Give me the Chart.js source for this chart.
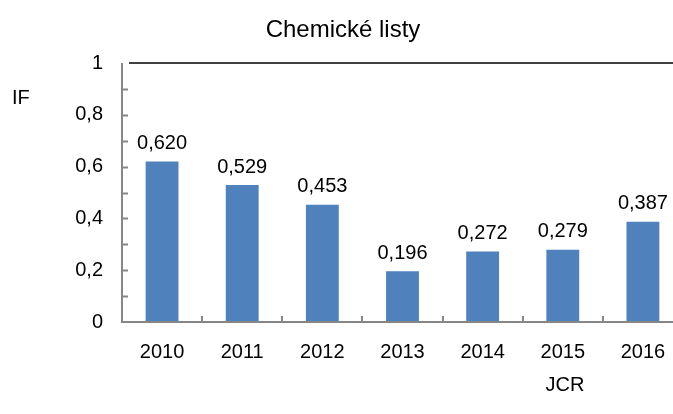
<!DOCTYPE html>
<html>
<head>
<meta charset="utf-8">
<script src="https://cdn.jsdelivr.net/npm/chart.js@4.4.0/dist/chart.umd.min.js"></script>
<style>
    html, body { margin: 0; padding: 0; background: #fff; overflow: hidden; }
    #wrap { width: 673px; height: 414px; overflow: hidden; position: relative; }
    #chart { display: block; }
</style>
</head>
<body>
<div id="wrap"><canvas id="chart" width="700" height="414"></canvas></div>
<script>
// ── DATA ──
const years  = ['2010', '2011', '2012', '2013', '2014', '2015', '2016'];
const ifVals = [0.620, 0.529, 0.453, 0.196, 0.272, 0.279, 0.387];
const titleText = 'Chemické listy';
const yLabel = 'IF';
const xLabel = 'JCR';

const FONT = "'Liberation Sans', Arial, sans-serif";
const fmt = v => v.toFixed(3).replace('.', ',');

// ── EXTRA DRAWING: inside ticks, top line, value labels, axis names ──
const decor = {
    id: 'decor',
    afterDatasetsDraw(chart) {
        const { ctx, chartArea: a, scales: { x, y } } = chart;
        ctx.save();
        ctx.strokeStyle = '#868686';
        ctx.lineWidth = 2;
        // y ticks every 0.1, pointing inward
        for (let i = 1; i < 10; i++) {
            const py = Math.round(y.getPixelForValue(i / 10)) + 0.5;
            ctx.beginPath(); ctx.moveTo(a.left, py); ctx.lineTo(a.left + 6, py); ctx.stroke();
        }
        // x ticks at category boundaries
        for (let i = 0; i < years.length; i++) {
            const px = Math.round((x.getPixelForValue(i) + x.getPixelForValue(i + 1)) / 2);
            ctx.beginPath(); ctx.moveTo(px, a.bottom); ctx.lineTo(px, a.bottom - 6); ctx.stroke();
        }
        // axes
        ctx.beginPath();
        ctx.moveTo(a.left, a.top); ctx.lineTo(a.left, a.bottom); ctx.lineTo(a.right, a.bottom);
        ctx.stroke();
        // top line
        ctx.strokeStyle = '#000';
        ctx.lineWidth = 1.5;
        ctx.beginPath(); ctx.moveTo(a.left + 7, a.top); ctx.lineTo(a.right, a.top); ctx.stroke();

        // value labels
        ctx.fillStyle = '#000';
        ctx.font = '20px ' + FONT;
        ctx.textAlign = 'center';
        ctx.textBaseline = 'bottom';
        chart.getDatasetMeta(0).data.forEach((bar, i) => {
            ctx.fillText(fmt(ifVals[i]), bar.x, bar.y - 8);
        });

        // axis names
        ctx.textBaseline = 'middle';
        ctx.textAlign = 'left';
        ctx.fillText(yLabel, 12, 98);
        ctx.textAlign = 'center';
        ctx.fillText(xLabel, 565, 385);

        // title
        ctx.font = '24px ' + FONT;
        ctx.fillText(titleText, 343, 30);
        ctx.restore();
    }
};

new Chart(document.getElementById('chart'), {
    type: 'bar',
    data: {
        labels: years,
        datasets: [{
            data: ifVals,
            backgroundColor: '#4F81BD',
            barPercentage: 0.41,
            categoryPercentage: 1
        }]
    },
    options: {
        responsive: false,
        animation: false,
        devicePixelRatio: 1,
        layout: { padding: { top: 63, left: 0, right: 17, bottom: 0 } },
        plugins: { legend: { display: false }, tooltip: { enabled: false } },
        scales: {
            x: {
                grid: { display: false },
                border: { display: false },
                ticks: { color: '#000', font: { family: FONT, size: 20 }, padding: 10, maxRotation: 0 },
                afterFit: s => { s.height = 92; }
            },
            y: {
                min: 0, max: 1,
                grid: { display: false },
                border: { display: false },
                ticks: {
                    stepSize: 0.1,
                    color: '#000',
                    font: { family: FONT, size: 20 },
                    padding: 11,
                    autoSkip: false,
                    callback: v => {
                        const k = Math.round(v * 10);
                        if (k % 2) return '';
                        if (k === 0) return '0';
                        if (k === 10) return '1';
                        return (k / 10).toFixed(1).replace('.', ',');
                    }
                },
                afterFit: s => { s.width = 122; }
            }
        }
    },
    plugins: [decor]
});
</script>
</body>
</html>
